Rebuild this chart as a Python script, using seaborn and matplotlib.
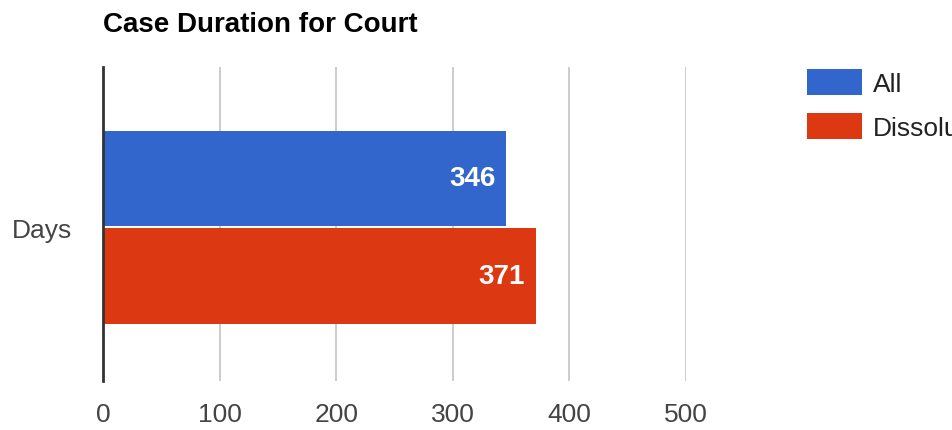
import seaborn as sns
import matplotlib.pyplot as plt
import pandas as pd

sns.set_style("white")
plt.rcParams['font.family'] = ['Liberation Sans', 'DejaVu Sans']

# data
groups = ["All", "Dissolution"]
days = [346, 371]
colors = ["#3366cc", "#dc3912"]

df = pd.DataFrame({"metric": ["Days"] * len(groups), "group": groups, "value": days})

fig = plt.figure(figsize=(9.52, 4.31), dpi=100)
ax = fig.add_axes([103 / 952, 49 / 431, 583 / 952, 314 / 431])

sns.barplot(data=df, x="value", y="metric", hue="group", orient="h",
            palette=colors, saturation=1, width=0.62, gap=0.02, ax=ax,
            linewidth=0)

# white value labels inside the bar ends
for p, v in zip(ax.patches, days):
    ax.annotate(f"{v}", (p.get_width(), p.get_y() + p.get_height() / 2),
                xytext=(-8, 0), textcoords="offset points",
                ha="right", va="center", color="white",
                fontsize=20, fontweight="bold")

ax.set_xlim(0, 500)
ax.set_ylim(0.49, -0.51)
ax.set_xticks([0, 100, 200, 300, 400, 500])
ax.grid(axis="x", color="#cccccc", linewidth=1.4)
ax.set_axisbelow(True)
for s in ["top", "right", "bottom"]:
    ax.spines[s].set_visible(False)
ax.spines["left"].set_color("#333333")
ax.spines["left"].set_linewidth(2)
ax.spines["left"].set_zorder(3)
ax.tick_params(axis="both", length=0, labelsize=19, labelcolor="#444444")
ax.tick_params(axis="x", pad=15)
ax.tick_params(axis="y", pad=22)
ax.set_xlabel("")
ax.set_ylabel("")

ax.set_title("Case Duration for Court", loc="left", fontsize=20,
             fontweight="bold", pad=26, color="#000000")

handles, labels = ax.get_legend_handles_labels()
ax.get_legend().remove()
fig.legend(handles, labels, loc="upper left", bbox_to_anchor=(783 / 952, 1 - 46 / 431),
           frameon=False, fontsize=19, handlelength=2.1, handleheight=1.15,
           labelspacing=0.65, handletextpad=0.42, labelcolor="#222222")

fig.savefig("out.png", dpi=100)
